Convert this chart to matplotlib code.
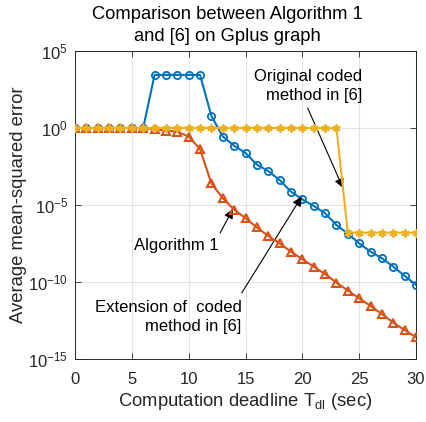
import matplotlib
matplotlib.use("Agg")
import matplotlib.pyplot as plt
from matplotlib.ticker import FixedLocator, NullLocator

plt.rcParams['font.family'] = ['Liberation Sans', 'DejaVu Sans']
plt.rcParams['mathtext.fontset'] = 'custom'
plt.rcParams['mathtext.rm'] = 'Liberation Sans'
plt.rcParams['mathtext.it'] = 'Liberation Sans:italic'
plt.rcParams['mathtext.default'] = 'regular'

# ---- data ----
deadline = list(range(0, 31))

algorithm1 = [1, 1, 1, 1, 1, 1, 1, 0.83, 0.68, 0.58, 0.28, 0.042, 2.5e-4, 2.8e-5,
              5.0e-6, 1.4e-6, 3.5e-7, 9.8e-8, 3.2e-8, 9.3e-9, 3.0e-9, 1.0e-9,
              3.3e-10, 9.1e-11, 2.8e-11, 8.7e-12, 2.8e-12, 8.3e-13, 2.3e-13,
              7.6e-14, 2.6e-14]

extension_coded = [1, 1, 1, 1, 1, 1, 1, 2.8e3, 2.8e3, 2.8e3, 2.8e3, 2.8e3, 6.0, 0.28,
                   0.071, 0.024, 4.2e-3, 1.6e-3, 4.2e-4, 7.4e-5, 2.3e-5, 8.7e-6,
                   2.9e-6, 5.0e-7, 1.4e-7, 3.2e-8, 9.3e-9, 3.5e-9, 1.0e-9,
                   2.5e-10, 6.5e-11]

original_coded = [1] * 24 + [1.6e-7] * 7

x_ticks = [0, 5, 10, 15, 20, 25, 30]
y_ticks = [1e-15, 1e-10, 1e-5, 1e0, 1e5]

title_text = "Comparison between Algorithm 1\nand [6] on Gplus graph"
x_label = "Computation deadline T$_{\\mathregular{dl}}$ (sec)"
y_label = "Average mean-squared error"

# ---- figure ----
W, H = 426, 422
fig = plt.figure(figsize=(W / 100, H / 100), dpi=100)
ax = fig.add_axes([75 / W, (H - 359) / H, 341 / W, 308 / H])

blue = '#0072BD'
orange = '#D95319'
yellow = '#EDB120'
asterisk = (6, 2, 0)

ax.plot(deadline, extension_coded, color=blue, lw=1.5, marker='o', ms=5.2,
        mfc='none', mew=1.3, zorder=3)
ax.plot(deadline, algorithm1, color=orange, lw=1.5, marker='^', ms=6,
        mfc='none', mew=1.5, zorder=4)
ax.plot(deadline, original_coded, color=yellow, lw=1.5, marker=asterisk, ms=6,
        mew=1.3, zorder=5)

ax.set_yscale('log')
ax.set_xlim(0, 30)
ax.set_ylim(1e-15, 1e5)
ax.xaxis.set_major_locator(FixedLocator(x_ticks))
ax.yaxis.set_major_locator(FixedLocator(y_ticks))
ax.yaxis.set_minor_locator(NullLocator())
ax.tick_params(direction='in', length=4, width=0.6, colors='#262626',
               labelsize=12, top=True, right=True)
ax.tick_params(axis='x', pad=9)
ax.tick_params(axis='y', pad=5)
ax.grid(True, color='#e3e3e3', lw=0.8, zorder=0)
ax.set_axisbelow(True)
for s in ax.spines.values():
    s.set_color('#262626')
    s.set_linewidth(0.7)

ax.set_xlabel(x_label, fontsize=13.3, color='#262626', labelpad=3)
ax.set_ylabel(y_label, fontsize=13.3, color='#262626', labelpad=1)

fig.text(227 / W, 1 - 25.5 / H, title_text, ha='center', va='center',
         fontsize=13.2, color='k', linespacing=1.45)

arrow = dict(arrowstyle='-|>', color='k', lw=0.8, mutation_scale=14,
             shrinkA=0, shrinkB=0)

ax.annotate('', xy=(23.58, 10 ** -3.9), xytext=(20.47, 10 ** 1.3),
            arrowprops=arrow)
ax.text(25.3, 10 ** 2.73, "Original coded\nmethod in [6]", ha='right',
        va='center', multialignment='right', fontsize=12, linespacing=1.3)

ax.annotate('', xy=(13.9, 10 ** -5.26), xytext=(12.76, 10 ** -6.82),
            arrowprops=arrow)
ax.text(12.67, 10 ** -7.66, "Algorithm 1", ha='right', va='center', fontsize=12)

ax.annotate('', xy=(19.94, 10 ** -4.46), xytext=(14.67, 10 ** -10.71),
            arrowprops=arrow)
ax.text(14.67, 10 ** -12.27, "Extension of  coded\nmethod in [6]", ha='right',
        va='center', multialignment='right', fontsize=12, linespacing=1.3)

fig.savefig('out.png', dpi=100)
